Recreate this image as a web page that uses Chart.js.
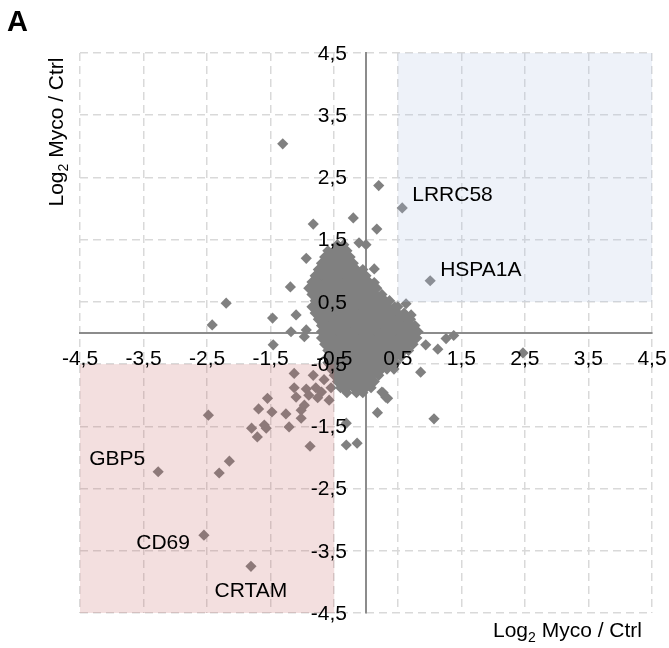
<!DOCTYPE html>
<html>
<head>
<meta charset="utf-8">
<script src="https://cdn.jsdelivr.net/npm/chart.js@4.4.1/dist/chart.umd.min.js"></script>
<style>
  body { margin: 0; background: #fff; }
  #wrap { width: 669px; height: 648px; }
</style>
</head>
<body>
<div id="wrap"><canvas id="scatter" width="669" height="648"></canvas></div>
<script>
// tick positions shared by both axes
const tickValues = [-4.5, -3.5, -2.5, -1.5, -0.5, 0.5, 1.5, 2.5, 3.5, 4.5];

// named genes
const geneNames = ['LRRC58', 'HSPA1A', 'GBP5', 'CD69', 'CRTAM'];
const geneX = [0.57, 1.01, -3.27, -2.55, -1.81];
const geneY = [2.01, 0.84, -2.23, -3.25, -3.75];

// scattered genes outside the dense cluster
const outlierX = [-1.31, -0.83, -0.2, 0.2, 0.17, 0.0, -0.11, -0.94, -1.19, -2.2, -2.42, -1.47, -1.1, -1.18, -0.94, -0.97, -1.46,
  0.13, -0.14, 0.13, 0.63, 0.71, 1.38, 1.26, 1.13, 0.94, 0.86, 2.47, 0.25, 0.31, 0.27, 0.34, 0.18, 1.07, -0.31, -0.31, -0.14, 0.44, -0.36,
  -2.48, -2.15, -2.31, -1.55, -1.69, -1.48, -1.8, -1.6, -1.57, -1.71, -1.26, -1.21, -1.13, -1.13, -1.02, -1.02, -0.97, -0.88,
  -0.83, -0.94, -0.79, -0.76, -0.9, -0.58, -0.55, -1.1, -0.66, -0.7];
const outlierY = [3.04, 1.75, 1.85, 2.37, 1.67, 1.42, 1.45, 1.2, 0.74, 0.48, 0.13, 0.24, 0.29, 0.02, 0.05, -0.06, -0.19,
  1.03, 0.92, 0.81, 0.47, 0.29, -0.04, -0.09, -0.26, -0.19, -0.63, -0.32, -0.95, -1.03, -0.96, -1.05, -1.28, -1.38, -1.45, -1.8, -1.77, -0.58, -0.88,
  -1.32, -2.06, -2.25, -1.05, -1.22, -1.27, -1.53, -1.48, -1.53, -1.67, -1.3, -1.51, -0.65, -0.88, -1.24, -1.37, -1.16, -1.82,
  -0.68, -0.9, -0.88, -1.04, -1.0, -1.08, -0.88, -1.03, -0.75, -0.95];

// dense cluster around the origin, one row per y value
const clusterRows = [
  [1.42, [-0.45, -0.35]],
  [1.32, [-0.6, -0.5, -0.4, -0.3]],
  [1.22, [-0.65, -0.55, -0.45, -0.35, -0.25]],
  [1.12, [-0.7, -0.6, -0.5, -0.4, -0.3, -0.2]],
  [1.02, [-0.75, -0.65, -0.55, -0.45, -0.35, -0.25, -0.15, -0.05]],
  [0.92, [-0.8, -0.7, -0.6, -0.5, -0.4, -0.3, -0.2, -0.1, 0.0]],
  [0.82, [-0.85, -0.75, -0.65, -0.55, -0.45, -0.35, -0.25, -0.15, -0.05, 0.05]],
  [0.72, [-0.9, -0.8, -0.7, -0.6, -0.5, -0.4, -0.3, -0.2, -0.1, 0.0, 0.1, 0.17]],
  [0.62, [-0.85, -0.75, -0.65, -0.55, -0.45, -0.35, -0.25, -0.15, -0.05, 0.05, 0.15, 0.25]],
  [0.52, [-0.8, -0.7, -0.6, -0.5, -0.4, -0.3, -0.2, -0.1, 0.0, 0.1, 0.2, 0.3, 0.37]],
  [0.42, [-0.85, -0.75, -0.65, -0.55, -0.45, -0.35, -0.25, -0.15, -0.05, 0.05, 0.15, 0.25, 0.35, 0.45, 0.5]],
  [0.32, [-0.8, -0.7, -0.6, -0.5, -0.4, -0.3, -0.2, -0.1, 0.0, 0.1, 0.2, 0.3, 0.4, 0.5, 0.6]],
  [0.22, [-0.75, -0.65, -0.55, -0.45, -0.35, -0.25, -0.15, -0.05, 0.05, 0.15, 0.25, 0.35, 0.45, 0.55, 0.65, 0.7]],
  [0.12, [-0.7, -0.6, -0.5, -0.4, -0.3, -0.2, -0.1, 0.0, 0.1, 0.2, 0.3, 0.4, 0.5, 0.6, 0.7, 0.77]],
  [0.02, [-0.7, -0.65, -0.55, -0.45, -0.35, -0.25, -0.15, -0.05, 0.05, 0.15, 0.25, 0.35, 0.45, 0.55, 0.65, 0.75, 0.82]],
  [-0.08, [-0.7, -0.6, -0.5, -0.4, -0.3, -0.2, -0.1, 0.0, 0.1, 0.2, 0.3, 0.4, 0.5, 0.6, 0.7, 0.8]],
  [-0.18, [-0.65, -0.55, -0.45, -0.35, -0.25, -0.15, -0.05, 0.05, 0.15, 0.25, 0.35, 0.45, 0.55, 0.65, 0.74]],
  [-0.28, [-0.6, -0.5, -0.4, -0.3, -0.2, -0.1, 0.0, 0.1, 0.2, 0.3, 0.4, 0.5, 0.6, 0.67]],
  [-0.38, [-0.6, -0.55, -0.45, -0.35, -0.25, -0.15, -0.05, 0.05, 0.15, 0.25, 0.35, 0.45, 0.55]],
  [-0.48, [-0.6, -0.5, -0.4, -0.3, -0.2, -0.1, 0.0, 0.1, 0.2, 0.3, 0.4, 0.47]],
  [-0.58, [-0.55, -0.45, -0.35, -0.25, -0.15, -0.05, 0.05, 0.15, 0.25, 0.33]],
  [-0.68, [-0.5, -0.4, -0.3, -0.2, -0.1, 0.0, 0.1, 0.2]],
  [-0.78, [-0.45, -0.35, -0.25, -0.15, -0.05, 0.05, 0.13]],
  [-0.88, [-0.4, -0.3, -0.2, -0.1, 0.0, 0.08]],
  [-0.96, [-0.3, -0.15, -0.05]]
];

// shaded zones: [xMin, xMax, yMin, yMax]
const upZone = [0.5, 4.5, 0.5, 4.5];
const downZone = [-4.5, -0.5, -4.5, -0.5];

let points = [];
clusterRows.forEach(row => {
  row[1].forEach(xv => points.push({x: xv, y: row[0]}));
});
outlierX.forEach((xv, i) => points.push({x: xv, y: outlierY[i]}));
geneX.forEach((xv, i) => points.push({x: xv, y: geneY[i]}));

const fontFamily = "'Liberation Sans', Arial, Helvetica, sans-serif";
Chart.defaults.font.family = fontFamily;

function fmt(v) {
  return v.toFixed(1).replace('.', ',');
}

function drawLog2(ctx, x, y, align) {
  ctx.font = '21px ' + fontFamily;
  let w1 = ctx.measureText('Log').width;
  let w3 = ctx.measureText(' Myco / Ctrl').width;
  ctx.font = '14px ' + fontFamily;
  let w2 = ctx.measureText('2').width;
  let total = w1 + w2 + w3;
  let start = x;
  if (align === 'center') start = x - total / 2;
  if (align === 'right') start = x - total;
  ctx.textAlign = 'left';
  ctx.textBaseline = 'alphabetic';
  ctx.fillStyle = '#000';
  ctx.font = '21px ' + fontFamily;
  ctx.fillText('Log', start, y);
  ctx.font = '14px ' + fontFamily;
  ctx.fillText('2', start + w1, y + 5);
  ctx.font = '21px ' + fontFamily;
  ctx.fillText(' Myco / Ctrl', start + w1 + w2, y);
}

const decorations = {
  id: 'decorations',
  afterDatasetsDraw(chart) {
    const {ctx, scales: {x, y}} = chart;
    ctx.save();
    [[upZone, 'rgba(178,196,228,0.22)'], [downZone, 'rgba(197,94,94,0.2)']].forEach(([z, c]) => {
      let l = x.getPixelForValue(z[0]), r = x.getPixelForValue(z[1]);
      let t = y.getPixelForValue(z[3]), b = y.getPixelForValue(z[2]);
      ctx.fillStyle = c;
      ctx.fillRect(l, t, r - l, b - t);
    });
    ctx.restore();
  },
  afterDraw(chart) {
    const {ctx, scales: {x, y}} = chart;
    ctx.save();
    ctx.fillStyle = '#000';
    ctx.font = '21px ' + fontFamily;
    // y tick labels, left of the vertical axis
    let zeroX = x.getPixelForValue(0);
    ctx.textAlign = 'right';
    ctx.textBaseline = 'middle';
    y.ticks.forEach(t => {
      ctx.fillText(fmt(t.value), zeroX - 19, y.getPixelForValue(t.value) + 1);
    });
    // label offsets next to each named gene
    let offsets = [[10, -13, 'left'], [10, -11, 'left'], [-13, -13, 'right'], [-14, 8, 'right'], [0, 25, 'center']];
    geneNames.forEach((name, i) => {
      let px = x.getPixelForValue(geneX[i]);
      let py = y.getPixelForValue(geneY[i]);
      ctx.textAlign = offsets[i][2];
      ctx.fillText(name, px + offsets[i][0], py + offsets[i][1]);
    });
    // axis titles
    drawLog2(ctx, 642, 637, 'right');
    ctx.save();
    ctx.translate(63, 132);
    ctx.rotate(-Math.PI / 2);
    drawLog2(ctx, 0, 0, 'center');
    ctx.restore();
    // panel letter
    ctx.font = 'bold 29px ' + fontFamily;
    ctx.textAlign = 'left';
    ctx.textBaseline = 'alphabetic';
    ctx.fillText('A', 7, 31);
    ctx.restore();
  }
};

function axisOptions(pos, showTicks) {
  return {
    type: 'linear',
    position: pos,
    min: -4.5,
    max: 4.5,
    afterBuildTicks: s => { s.ticks = tickValues.map(v => ({value: v})); },
    afterFit: s => { s.paddingLeft = 0; s.paddingRight = 0; s.paddingTop = 0; s.paddingBottom = 0; },
    grid: { color: '#d9d9d9', lineWidth: 1.5, drawTicks: false },
    border: { display: true, color: '#8c8c8c', width: 2, dash: [8, 5] },
    ticks: {
      display: showTicks, z: 1, padding: 14, color: '#000', font: { size: 21 },
      autoSkip: false, maxRotation: 0, callback: v => fmt(v)
    }
  };
}

new Chart(document.getElementById('scatter'), {
  type: 'scatter',
  data: {
    datasets: [{
      data: points,
      pointStyle: 'rectRot',
      pointRadius: 5.6,
      pointHoverRadius: 5.6,
      backgroundColor: '#808080',
      borderWidth: 0
    }]
  },
  options: {
    responsive: false,
    animation: false,
    layout: { padding: { left: 80, right: 17, top: 53, bottom: 35 } },
    plugins: { legend: { display: false }, tooltip: { enabled: false } },
    scales: {
      x: axisOptions({y: 0}, true),
      y: axisOptions({x: 0}, false)
    }
  },
  plugins: [decorations]
});
</script>
</body>
</html>
